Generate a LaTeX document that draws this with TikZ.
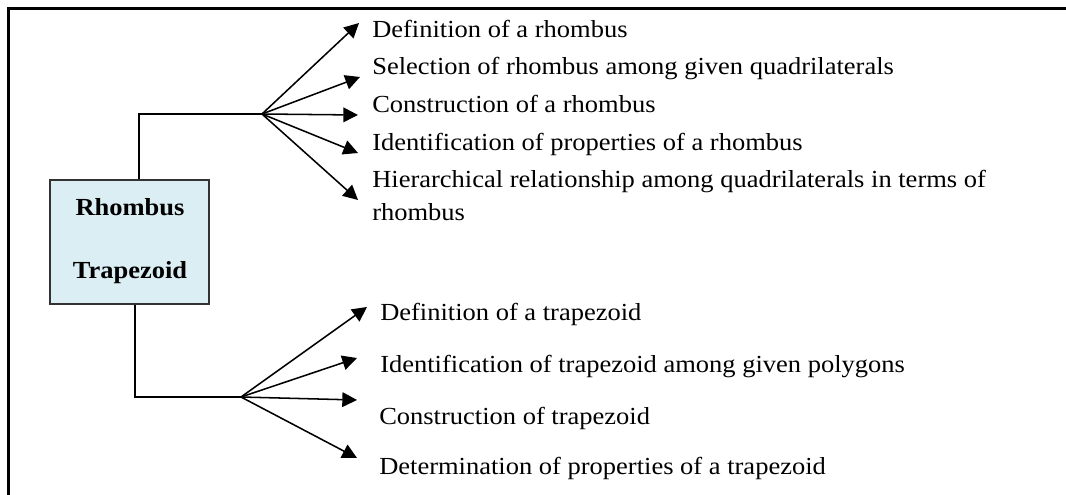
\documentclass[tikz,border=0pt]{standalone}
\usepackage{fontspec}
\setmainfont{Liberation Serif}[FakeStretch=1.08]
\usetikzlibrary{arrows.meta}
\definecolor{boxfill}{RGB}{218,238,243}
\definecolor{boxline}{RGB}{50,50,50}
\begin{document}
\begin{tikzpicture}[x=0.75pt,y=-0.75pt,
  frame/.style={line width=1.6pt,line cap=rect},
  link/.style={line width=1.15pt},
  fan/.style={line width=1.15pt,-{Triangle[length=11pt,width=11pt]}},
  item/.style={anchor=base west,inner sep=0pt,font=\fontsize{18.4}{22}\selectfont},
  topic/.style={anchor=base,inner sep=0pt,font=\fontsize{18.4}{22}\selectfont\bfseries}
]
\useasboundingbox (0,0) rectangle (1066,495);

% outer frame: top and left edges only
\draw[frame] (1066,8.5) -- (8.5,8.5) -- (8.5,497);

% central box
\node[draw=boxline,line width=0.9pt,fill=boxfill,minimum width=119.25pt,minimum height=93pt,inner sep=0pt] (box) at (129.5,242) {};
\node[topic] (rh) at (130,216) {Rhombus};
\node[topic] (tr) at (130,278) {Trapezoid};

% branch points
\coordinate (up) at (139,114);
\coordinate (fa) at (262,114);
\coordinate (dn) at (135,397);
\coordinate (fb) at (241,397);

\draw[link] (box.north -| up) -- (up) -- (fa);
\draw[link] (box.south -| dn) -- (dn) -- (fb);

% rhombus items
\node[item] (r1) at (372,38) {Definition of a rhombus};
\node[item] (r2) at (372,75) {Selection of rhombus among given quadrilaterals};
\node[item] (r3) at (372,113) {Construction of a rhombus};
\node[item] (r4) at (372,151) {Identification of properties of a rhombus};
\node[item] (r5) at (372,188) {Hierarchical relationship among quadrilaterals in terms of};
\node[item] (r6) at (372,220) {rhombus};

\coordinate (ta1) at (359,23);
\coordinate (ta2) at (360,77);
\coordinate (ta3) at (358,115);
\coordinate (ta4) at (358,153);
\coordinate (ta5) at (358,200);
\foreach \t in {ta1,ta2,ta3,ta4,ta5} \draw[fan] (fa) -- (\t);

% trapezoid items
\node[item] (t1) at (380,320) {Definition of a trapezoid};
\node[item] (t2) at (380,372) {Identification of trapezoid among given polygons};
\node[item] (t3) at (379,424) {Construction of trapezoid};
\node[item] (t4) at (379,474) {Determination of properties of a trapezoid};

\coordinate (tb1) at (367,307);
\coordinate (tb2) at (357,358);
\coordinate (tb3) at (357,400);
\coordinate (tb4) at (357,458);
\foreach \t in {tb1,tb2,tb3,tb4} \draw[fan] (fb) -- (\t);
\end{tikzpicture}
\end{document}
